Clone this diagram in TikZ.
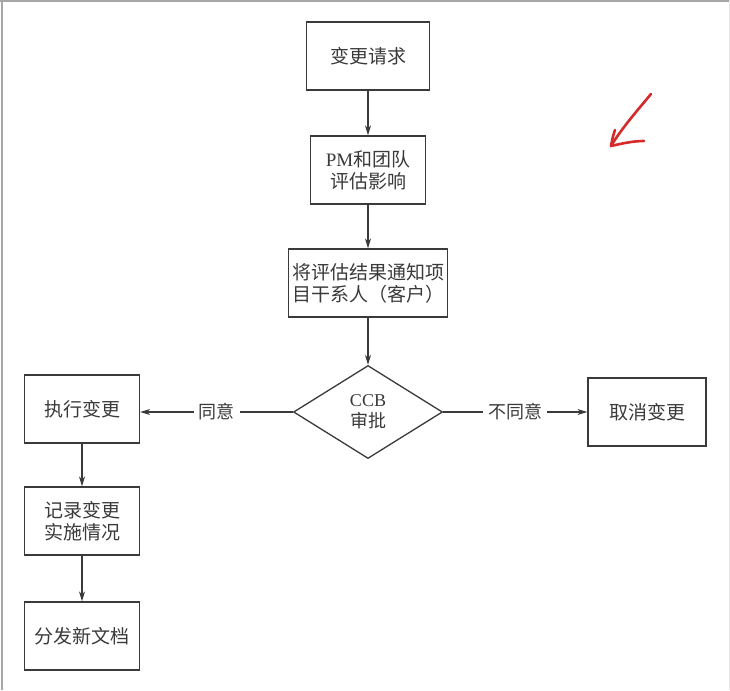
\documentclass[tikz,border=0pt]{standalone}
\usepackage{fontspec}
\setmainfont{Liberation Serif}
\newfontfamily\cjk{Noto Sans CJK SC}
\usetikzlibrary{shapes.geometric,arrows.meta}
\definecolor{ink}{HTML}{3A3A3A}
\definecolor{pen}{HTML}{D42A2A}
\tikzset{
  stepbox/.style={draw=ink, line width=1.3pt, text=ink, align=center, inner sep=0pt,
    minimum height=68pt, font=\cjk\fontsize{19}{22}\selectfont},
  decide/.style={diamond, draw=ink, line width=1.3pt, text=ink, align=center, inner sep=0pt,
    minimum width=149pt, minimum height=93pt, font=\cjk\fontsize{18}{21}\selectfont},
  flow/.style={draw=ink, line width=1.1pt, -{Stealth[length=10pt,width=6pt]}},
  lab/.style={fill=white, text=ink, inner xsep=5pt, inner ysep=2pt, font=\cjk\fontsize{18}{20}\selectfont}
}
\begin{document}
\begin{tikzpicture}[x=1pt,y=-1pt]
\useasboundingbox (0,0) rectangle (730,690);
\fill[white] (0,0) rectangle (730,690);
% frame edges of the scanned page
\draw[gray!70, line width=1.5pt] (0,1) -- (730,1);
\draw[gray!70, line width=1.2pt] (2,0) -- (2,690);
\draw[gray!20, line width=1pt] (729,0) -- (729,690);

\node[stepbox, minimum width=123pt] (req) at (368,56) {变更请求};
\node[stepbox, minimum width=115pt] (eval) at (368,170) {{\rmfamily PM}和团队\\评估影响};
\node[stepbox, minimum width=159pt] (notify) at (368,283) {将评估结果通知项\\目干系人（客户）};
\node[decide] (ccb) at (368,412) {{\rmfamily CCB}\\审批};
\node[stepbox, minimum width=115pt] (exec) at (82,409) {执行变更};
\node[stepbox, minimum width=115pt] (rec) at (82,521) {记录变更\\实施情况};
\node[stepbox, minimum width=115pt] (dist) at (82,636) {分发新文档};
\node[stepbox, minimum width=118pt] (cancel) at (647,412) {取消变更};

\draw[flow] (req) -- (eval);
\draw[flow] (eval) -- (notify);
\draw[flow] (notify) -- (ccb);
\draw[flow] (ccb.west) -- node[lab] {同意} (exec.east |- ccb.west);
\draw[flow] (ccb.east) -- node[lab] {不同意} (cancel.west |- ccb.east);
\draw[flow] (exec) -- (rec);
\draw[flow] (rec) -- (dist);

% red hand-drawn arrow
\coordinate (rs) at (651,94);
\coordinate (rt) at (611,146);
\coordinate (rl) at (615,130);
\coordinate (rr) at (644,141);
\draw[pen, line width=2.6pt, line cap=round, line join=round]
  (rs) .. controls (636,112) and (622,128) .. (rt);
\draw[pen, line width=2.6pt, line cap=round, line join=round]
  (rl) .. controls (613,136) .. (rt) .. controls (624,143) and (634,141) .. (rr);
\end{tikzpicture}
\end{document}
